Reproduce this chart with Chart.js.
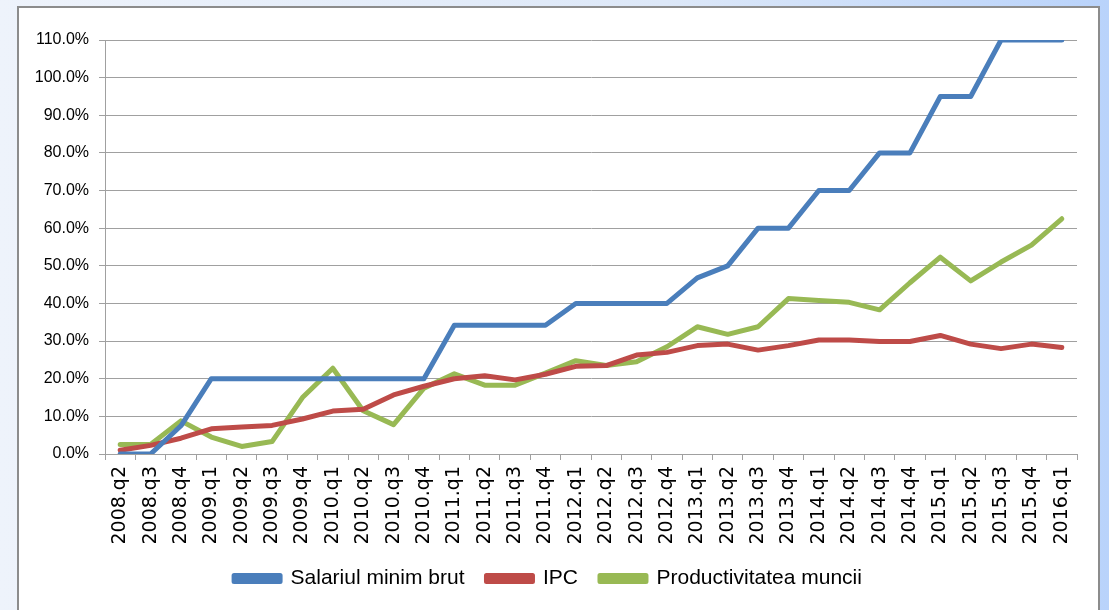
<!DOCTYPE html>
<html>
<head>
<meta charset="utf-8">
<script src="https://cdn.jsdelivr.net/npm/chart.js@4"></script>
<style>
  html, body { margin: 0; padding: 0; }
  body {
    width: 1109px; height: 610px; overflow: hidden;
    background: linear-gradient(to right, #eef3fb 0%, #dde8f8 60%, #b9d3fb 100%);
    position: relative;
  }
  #box {
    position: absolute; left: 17px; top: 6px; width: 1083px; height: 610px;
    background: #fff; border: 2px solid #8c8c8c; box-sizing: border-box;
  }
  #wrap { position: absolute; left: 0; top: 0; width: 1081px; height: 602px; }
</style>
</head>
<body>
<div id="box"><div id="wrap"><canvas id="chart"></canvas></div></div>
<script>
  // trimestre
  const categories = ["2008.q2","2008.q3","2008.q4","2009.q1","2009.q2","2009.q3","2009.q4",
    "2010.q1","2010.q2","2010.q3","2010.q4","2011.q1","2011.q2","2011.q3","2011.q4",
    "2012.q1","2012.q2","2012.q3","2012.q4","2013.q1","2013.q2","2013.q3","2013.q4",
    "2014.q1","2014.q2","2014.q3","2014.q4","2015.q1","2015.q2","2015.q3","2015.q4","2016.q1"];

  // valori in %
  const salariul = [0, 0, 7.5, 20, 20, 20, 20, 20, 20, 20, 20, 34.2, 34.2, 34.2, 34.2,
    40, 40, 40, 40, 46.8, 50, 60, 60, 70, 70, 80, 80, 95, 95, 110, 110, 110];
  const ipc = [1, 2.3, 4.2, 6.7, 7.2, 7.6, 9.3, 11.4, 11.9, 15.7, 18, 20, 20.8, 19.7, 21.2,
    23.3, 23.5, 26.3, 27, 28.8, 29.2, 27.6, 28.8, 30.3, 30.3, 29.9, 29.9, 31.5, 29.2, 28, 29.2, 28.3];
  const productivitatea = [2.5, 2.5, 8.8, 4.5, 2, 3.3, 15, 22.8, 11.5, 7.8, 17.5, 21.3, 18.3, 18.3, 21.5,
    24.8, 23.5, 24.5, 28.5, 33.8, 31.8, 33.8, 41.3, 40.8, 40.3, 38.3, 45.5, 52.3, 46, 51, 55.5, 62.5];

  const yTicks = { min: 0, max: 110, step: 10 };

  const fontFam = "'Liberation Sans Narrow', 'Arial Narrow', 'Liberation Sans', sans-serif";
  const gri = "#a0a0a0";

  function serie(label, data, color) {
    return {
      label, data,
      borderColor: color, backgroundColor: color,
      borderWidth: 5, pointRadius: 0, tension: 0,
      borderCapStyle: "round", borderJoinStyle: "round"
    };
  }

  new Chart(document.getElementById("chart"), {
    type: "line",
    data: {
      labels: categories,
      datasets: [
        serie("Salariul minim brut", salariul, "#4a7ebb"),
        serie("IPC", ipc, "#be4b48"),
        serie("Productivitatea muncii", productivitatea, "#98b954")
      ]
    },
    options: {
      responsive: true,
      maintainAspectRatio: false,
      animation: false,
      layout: { padding: { top: 32, right: 23, left: 0, bottom: 11 } },
      plugins: {
        tooltip: { enabled: false },
        legend: {
          position: "bottom",
          labels: {
            color: "#000",
            font: { family: fontFam, size: 21 },
            boxWidth: 46, boxHeight: 6, padding: 22
          }
        }
      },
      scales: {
        x: {
          offset: true,
          grid: { offset: true, drawOnChartArea: false, color: gri, tickLength: 6 },
          border: { color: gri, width: 1 },
          ticks: {
            color: "#000", minRotation: 90, maxRotation: 90, autoSkip: false, padding: 6,
            font: { family: "'DejaVu Sans', sans-serif", size: 19 }
          },
          afterFit: s => { s.height = 92; }
        },
        y: {
          min: yTicks.min, max: yTicks.max,
          grid: { color: gri, tickLength: 6 },
          border: { color: gri, width: 1 },
          ticks: {
            stepSize: yTicks.step, color: "#000", padding: 10,
            font: { family: fontFam, size: 16 },
            callback: v => v.toFixed(1) + "%"
          },
          afterFit: s => { s.width = 86; }
        }
      }
    }
  });
</script>
</body>
</html>
